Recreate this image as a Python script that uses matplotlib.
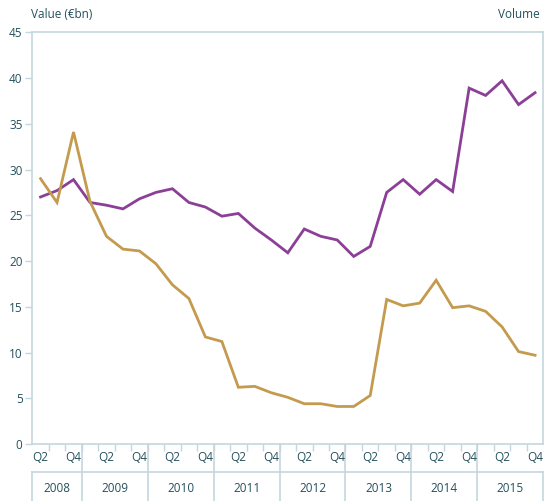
import matplotlib.pyplot as plt
import matplotlib.lines as mlines

# quarters from 2008 Q2 to 2015 Q4
years = ["2008", "2009", "2010", "2011", "2012", "2013", "2014", "2015"]
quarters = ["Q2", "Q3", "Q4"] + ["Q1", "Q2", "Q3", "Q4"] * 7

volume = [27.0, 27.7, 28.9, 26.4, 26.1, 25.7, 26.8, 27.5, 27.9, 26.4,
          25.9, 24.9, 25.2, 23.6, 22.3, 20.9, 23.5, 22.7, 22.3, 20.5,
          21.6, 27.5, 28.9, 27.3, 28.9, 27.6, 38.9, 38.1, 39.7, 37.1, 38.4]
value = [29.0, 26.4, 34.1, 26.5, 22.7, 21.3, 21.1, 19.7, 17.4, 15.9,
         11.7, 11.2, 6.2, 6.3, 5.6, 5.1, 4.4, 4.4, 4.1, 4.1,
         5.3, 15.8, 15.1, 15.4, 17.9, 14.9, 15.1, 14.5, 12.8, 10.1, 9.7]

purple = "#8b3f96"
gold = "#c49a4e"
axis_col = "#c5d6de"
text_col = "#24505c"

plt.rcParams['font.family'] = ['Open Sans', 'DejaVu Sans']

fig = plt.figure(figsize=(5.44, 5.01), dpi=100)
ax = fig.add_axes([0.0594, 0.1138, 0.9393, 0.8217])

x = list(range(len(quarters)))
ax.plot(x, volume, color=purple, lw=2.0, solid_joinstyle="miter")
ax.plot(x, value, color=gold, lw=2.0, solid_joinstyle="miter")

ax.set_xlim(-0.5, len(quarters) - 0.5)
ax.set_ylim(0, 45)
ax.set_yticks(range(0, 46, 5))
ax.tick_params(axis="y", length=5, width=1, color=axis_col, labelcolor=text_col,
               labelsize=8.5, pad=2)
ax.set_xticks([i + 0.5 for i in range(len(quarters) - 1)])
ax.set_xticklabels([])
ax.tick_params(axis="x", length=5, width=1, color=axis_col)

for s in ax.spines.values():
    s.set_color(axis_col)
    s.set_linewidth(1.2)

tr = ax.get_xaxis_transform()
for i, q in enumerate(quarters):
    if q in ("Q2", "Q4"):
        ax.text(i, -0.032, q, transform=tr, ha="center", va="center",
                fontsize=8.5, color=text_col)

# bottom rows: separator lines and year labels
ax.add_line(mlines.Line2D([-0.5, len(quarters) - 0.5], [-0.068, -0.068], transform=tr,
                          color=axis_col, lw=1.2, clip_on=False))
starts = [-0.5] + [2.5 + 4 * k for k in range(7)] + [len(quarters) - 0.5]
for k, b in enumerate(starts):
    top = -0.068 if k in (0, len(starts) - 1) else 0
    ax.add_line(mlines.Line2D([b, b], [top, -0.14], transform=tr,
                              color=axis_col, lw=1.2, clip_on=False))
for k, yr in enumerate(years):
    ax.text((starts[k] + starts[k + 1]) / 2, -0.107, yr, transform=tr,
            ha="center", va="center", fontsize=8.5, color=text_col)

fig.text(31 / 544, 1 - 15 / 501, "Value (€bn)", ha="left", va="center",
         fontsize=8.5, color=text_col)
fig.text(540 / 544, 1 - 15 / 501, "Volume", ha="right", va="center",
         fontsize=8.5, color=text_col)

fig.savefig("out.png", dpi=100)
